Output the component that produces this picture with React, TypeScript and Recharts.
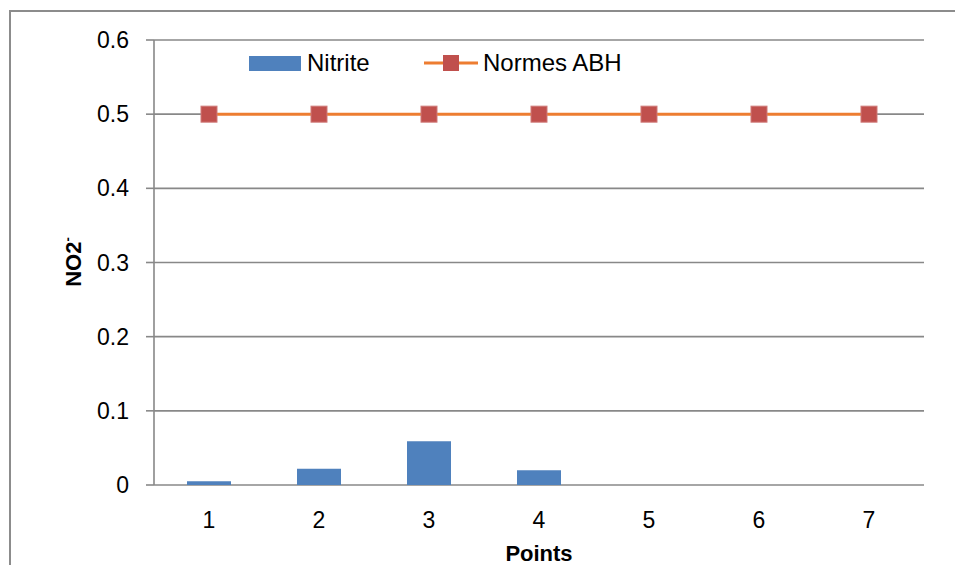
import {
  ComposedChart,
  Bar,
  Line,
  XAxis,
  YAxis,
  CartesianGrid,
} from "recharts";

const points = ["1", "2", "3", "4", "5", "6", "7"];
const nitrite = [0.005, 0.022, 0.059, 0.02, 0, 0, 0];
const normesABH = [0.5, 0.5, 0.5, 0.5, 0.5, 0.5, 0.5];
const yTicks = [0, 0.1, 0.2, 0.3, 0.4, 0.5, 0.6];

const FONT = "'Liberation Sans', Arial, sans-serif";
const GRID = "#888888";
const BAR_COLOR = "#4F81BD";
const LINE_COLOR = "#ED7D31";
const MARKER_COLOR = "#C0504D";

const data = points.map((p, i) => ({
  point: p,
  nitrite: nitrite[i],
  normes: normesABH[i],
}));

// square marker like the Excel series
const SquareDot = (props: any) => {
  const { cx, cy, index } = props;
  if (cx == null || cy == null) return null;
  return (
    <rect
      key={`dot-${index}`}
      x={cx - 8}
      y={cy - 8}
      width={16}
      height={16}
      fill={MARKER_COLOR}
      stroke="#cf7a78"
      strokeWidth={1}
    />
  );
};

const YTitle = () => (
  <text
    x={81}
    y={262}
    transform="rotate(-90, 81, 262)"
    textAnchor="middle"
    fontFamily={FONT}
    fontWeight="bold"
    fontSize={22}
    fill="#000"
  >
    NO2
    <tspan dy={-9} fontSize={13}>
      -
    </tspan>
  </text>
);

const XTitle = (props: any) => {
  const { viewBox } = props;
  const cx = viewBox.x + viewBox.width / 2;
  return (
    <text
      x={cx}
      y={561}
      textAnchor="middle"
      fontFamily={FONT}
      fontWeight="bold"
      fontSize={22}
      fill="#000"
    >
      Points
    </text>
  );
};

function ChartLegend() {
  const text = {
    position: "absolute" as const,
    top: 48,
    fontFamily: FONT,
    fontSize: 24,
    lineHeight: "30px",
    color: "#000",
    whiteSpace: "nowrap" as const,
  };
  return (
    <>
      <div
        style={{
          position: "absolute",
          left: 249,
          top: 56,
          width: 52,
          height: 15,
          background: BAR_COLOR,
        }}
      />
      <span style={{ ...text, left: 307 }}>Nitrite</span>
      <svg
        width={54}
        height={16}
        style={{ position: "absolute", left: 424, top: 55 }}
      >
        <line x1={0} y1={8} x2={54} y2={8} stroke={LINE_COLOR} strokeWidth={3} />
        <rect x={19} y={0} width={16} height={16} fill={MARKER_COLOR} />
      </svg>
      <span style={{ ...text, left: 483 }}>Normes ABH</span>
    </>
  );
}

export default function App() {
  return (
    <div
      style={{
        position: "absolute",
        left: 0,
        top: 0,
        width: 955,
        height: 565,
        overflow: "hidden",
        background: "#fff",
      }}
    >
      <div
        style={{
          position: "absolute",
          left: 9,
          top: 10,
          width: 1000,
          height: 1000,
          borderLeft: "2px solid #8c8c8c",
          borderTop: "2px solid #8c8c8c",
        }}
      />
      <ComposedChart
        width={955}
        height={565}
        data={data}
        margin={{ top: 40, right: 31, bottom: 0, left: 0 }}
        style={{ position: "absolute", left: 0, top: 0 }}
      >
        <CartesianGrid vertical={false} stroke={GRID} strokeWidth={1.6} />
        <XAxis
          dataKey="point"
          height={80}
          axisLine={false}
          tickLine={false}
          tickSize={0}
          tickMargin={27}
          tick={{ fontFamily: FONT, fontSize: 23, fill: "#000" }}
          label={<XTitle />}
        />
        <YAxis
          width={154}
          domain={[0, 0.6]}
          ticks={yTicks}
          interval={0}
          axisLine={{ stroke: GRID, strokeWidth: 1.6 }}
          tickLine={{ stroke: GRID, strokeWidth: 1.6 }}
          tickSize={8}
          tickMargin={17}
          tick={{ fontFamily: FONT, fontSize: 23, fill: "#000" }}
          label={<YTitle />}
        />
        <Bar
          dataKey="nitrite"
          fill={BAR_COLOR}
          barSize={44}
          isAnimationActive={false}
        />
        <Line
          dataKey="normes"
          stroke={LINE_COLOR}
          strokeWidth={3}
          dot={<SquareDot />}
          activeDot={false}
          isAnimationActive={false}
        />
      </ComposedChart>
      <ChartLegend />
    </div>
  );
}
